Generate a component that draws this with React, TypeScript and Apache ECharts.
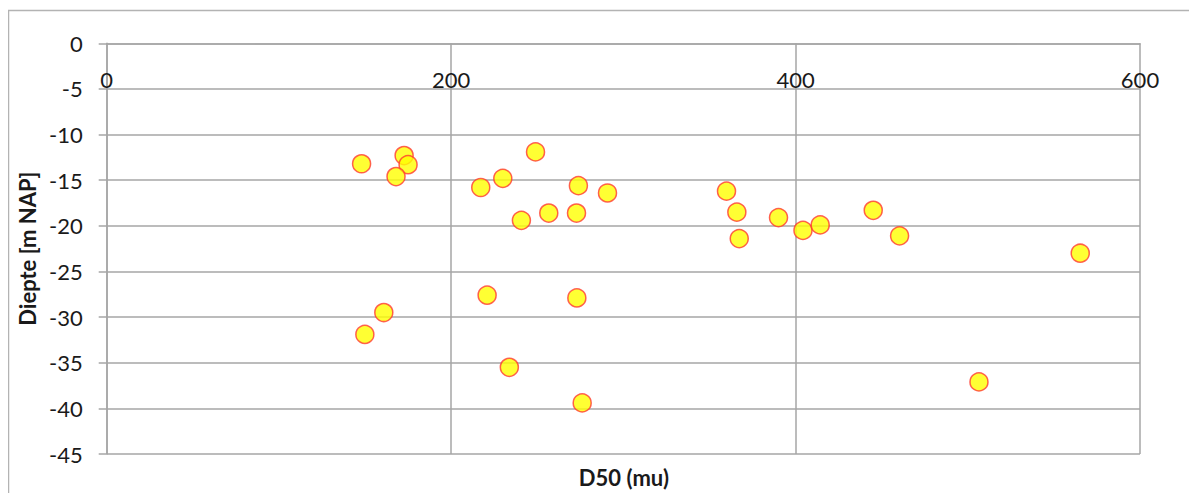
import React, { useEffect, useRef } from "react";
import * as echarts from "echarts";

const d50Values: number[] = [
  148, 172.7, 175, 168, 160.9, 149.9,
  217.2, 230, 249, 240.8, 256.7, 272.8, 273.9, 290.8, 220.9, 273, 233.8, 276.1,
  359.9, 365.9, 367.3, 390.1, 404.3, 414.3, 445.1, 460.4, 565.3, 506.5,
];
const depthValues: number[] = [
  -13.2, -12.3, -13.3, -14.6, -29.5, -31.9,
  -15.8, -14.8, -11.9, -19.4, -18.6, -18.6, -15.6, -16.4, -27.6, -27.9, -35.5, -39.4,
  -16.2, -18.5, -21.4, -19.1, -20.5, -19.9, -18.3, -21.1, -23.0, -37.1,
];
const xAxisTitle = "D50 (mu)";
const yAxisTitle = "Diepte [m NAP]";

const FONT = "Lato, 'Open Sans', sans-serif";

export default function App() {
  const ref = useRef<HTMLDivElement>(null);
  useEffect(() => {
    if (!ref.current) return;
    const chart = echarts.init(ref.current, undefined, { renderer: "svg" });
    const pts = d50Values.map((x, i) => [x, depthValues[i]]);
    chart.setOption({
      animation: false,
      grid: { left: 98.7, right: 57, top: 35.3, bottom: 39, containLabel: false },
      xAxis: {
        type: "value",
        min: 0,
        max: 600,
        interval: 200,
        position: "top",
        axisLine: { show: true, onZero: true, lineStyle: { color: "#a6a6a6", width: 1.5 } },
        axisTick: { show: false },
        axisLabel: {
          inside: true,
          margin: 25,
          color: "#1a1a1a",
          fontSize: 22,
          fontFamily: FONT,
          verticalAlign: "top",
        },
        splitLine: { show: true, lineStyle: { color: "#a6a6a6", width: 1.5 } },
      },
      yAxis: {
        type: "value",
        min: -45,
        max: 0,
        interval: 5,
        name: yAxisTitle,
        nameLocation: "middle",
        nameGap: 68,
        nameRotate: 90,
        nameTextStyle: { color: "#1a1a1a", fontSize: 22, fontWeight: "bold", fontFamily: FONT },
        axisLine: { show: true, lineStyle: { color: "#a6a6a6", width: 1.5 } },
        axisTick: { show: true, length: 8, lineStyle: { color: "#a6a6a6", width: 1.5 } },
        axisLabel: { margin: 24, color: "#1a1a1a", fontSize: 22, fontFamily: FONT },
        splitLine: { show: true, lineStyle: { color: "#a6a6a6", width: 1.5 } },
      },
      graphic: [
        {
          type: "rect",
          shape: { x: 0.5, y: 2.5, width: 1300, height: 600 },
          style: { fill: "none", stroke: "#b3b3b3", lineWidth: 1.5 },
          silent: true,
          z: -1,
        },
        {
          type: "text",
          x: 616,
          y: 469,
          style: {
            text: xAxisTitle,
            fill: "#1a1a1a",
            fontSize: 22,
            fontWeight: "bold",
            fontFamily: FONT,
            textAlign: "center",
            textVerticalAlign: "middle",
          },
        },
      ],
      series: [
        {
          type: "scatter",
          data: pts,
          symbol: "circle",
          symbolSize: 18,
          itemStyle: { color: "#ffff00", borderColor: "#ff3b2f", borderWidth: 1.5 },
        },
      ],
    });
    return () => chart.dispose();
  }, []);
  return <div ref={ref} style={{ width: 1189, height: 485 }} />;
}
